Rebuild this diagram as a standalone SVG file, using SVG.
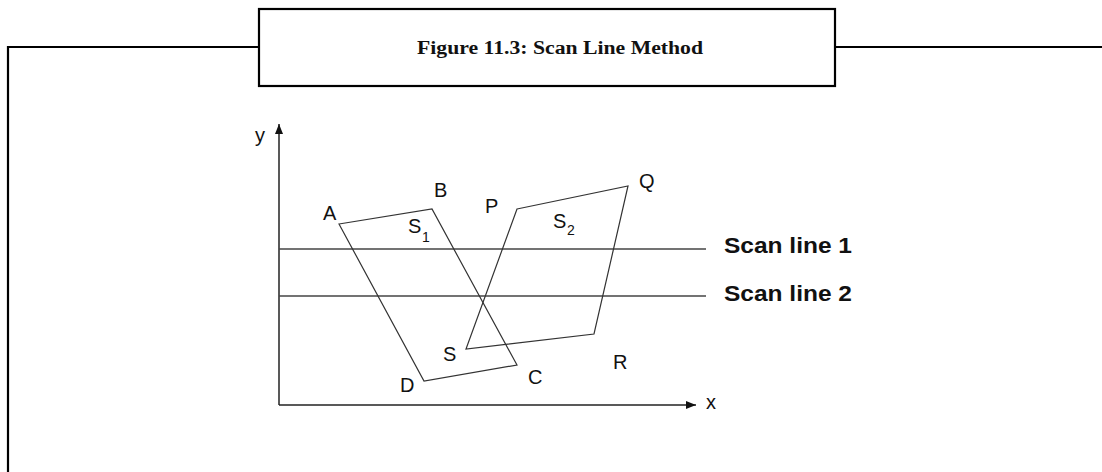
<svg xmlns="http://www.w3.org/2000/svg" width="1102" height="472" viewBox="0 0 1102 472">
<style>
.frame{fill:none;stroke:#000;stroke-width:2.2}
.title{font-family:"Liberation Serif","DejaVu Serif",serif;font-weight:bold;font-size:18px;fill:#111}
.lbl{font-family:"Liberation Sans",Arial,sans-serif;font-size:20px;fill:#111}
.sub{font-family:"Liberation Sans",Arial,sans-serif;font-size:14px;fill:#111}
.scan{font-family:"Liberation Sans",Arial,sans-serif;font-weight:bold;font-size:22px;fill:#111}
.axis{stroke:#222;stroke-width:1.5;fill:none}
.sl{stroke:#444;stroke-width:1.5;fill:none}
.poly{stroke:#333;stroke-width:1.2;fill:none}
</style>
<defs>
<marker id="ah" viewBox="0 0 10 10" refX="10" refY="5" markerWidth="10" markerHeight="10" markerUnits="userSpaceOnUse" orient="auto">
<path d="M0,1 L10,5 L0,9 Z" fill="#111"/>
</marker>
</defs>
<rect width="1102" height="472" fill="#fff"/>
<g id="frame">
<path class="frame" d="M8,472 V47 H259 M835,47 H1102"/>
<rect class="frame" x="259" y="9" width="576" height="77"/>
<text class="title" x="417" y="54" textLength="286" lengthAdjust="spacingAndGlyphs">Figure 11.3: Scan Line Method</text>
</g>
<g id="connectors">
<line class="axis" x1="279" y1="405" x2="279" y2="124" marker-end="url(#ah)"/>
<line class="axis" x1="279" y1="405" x2="696" y2="405" marker-end="url(#ah)"/>
<line class="sl" x1="279" y1="249" x2="706" y2="249"/>
<line class="sl" x1="279" y1="296" x2="706" y2="296"/>
</g>
<g id="axis-labels">
<text class="lbl" x="255" y="142">y</text>
<text class="lbl" x="706" y="409">x</text>
</g>
<g id="S1">
<polygon class="poly" points="339,224 432,209 517,365 424,381"/>
<text class="lbl" x="323" y="220">A</text>
<text class="lbl" x="434" y="197">B</text>
<text class="lbl" x="528" y="384">C</text>
<text class="lbl" x="400" y="392">D</text>
<text class="lbl" x="408" y="233">S</text>
<text class="sub" x="422" y="242">1</text>
</g>
<g id="S2">
<polygon class="poly" points="517,209 628,186 594,334 466,349"/>
<text class="lbl" x="485" y="213">P</text>
<text class="lbl" x="639" y="188">Q</text>
<text class="lbl" x="613" y="369">R</text>
<text class="lbl" x="443" y="361">S</text>
<text class="lbl" x="553" y="228">S</text>
<text class="sub" x="567" y="235">2</text>
</g>
<g id="scan-labels">
<text class="scan" x="724" y="253" textLength="128" lengthAdjust="spacingAndGlyphs">Scan line 1</text>
<text class="scan" x="724" y="301" textLength="128" lengthAdjust="spacingAndGlyphs">Scan line 2</text>
</g>
</svg>
